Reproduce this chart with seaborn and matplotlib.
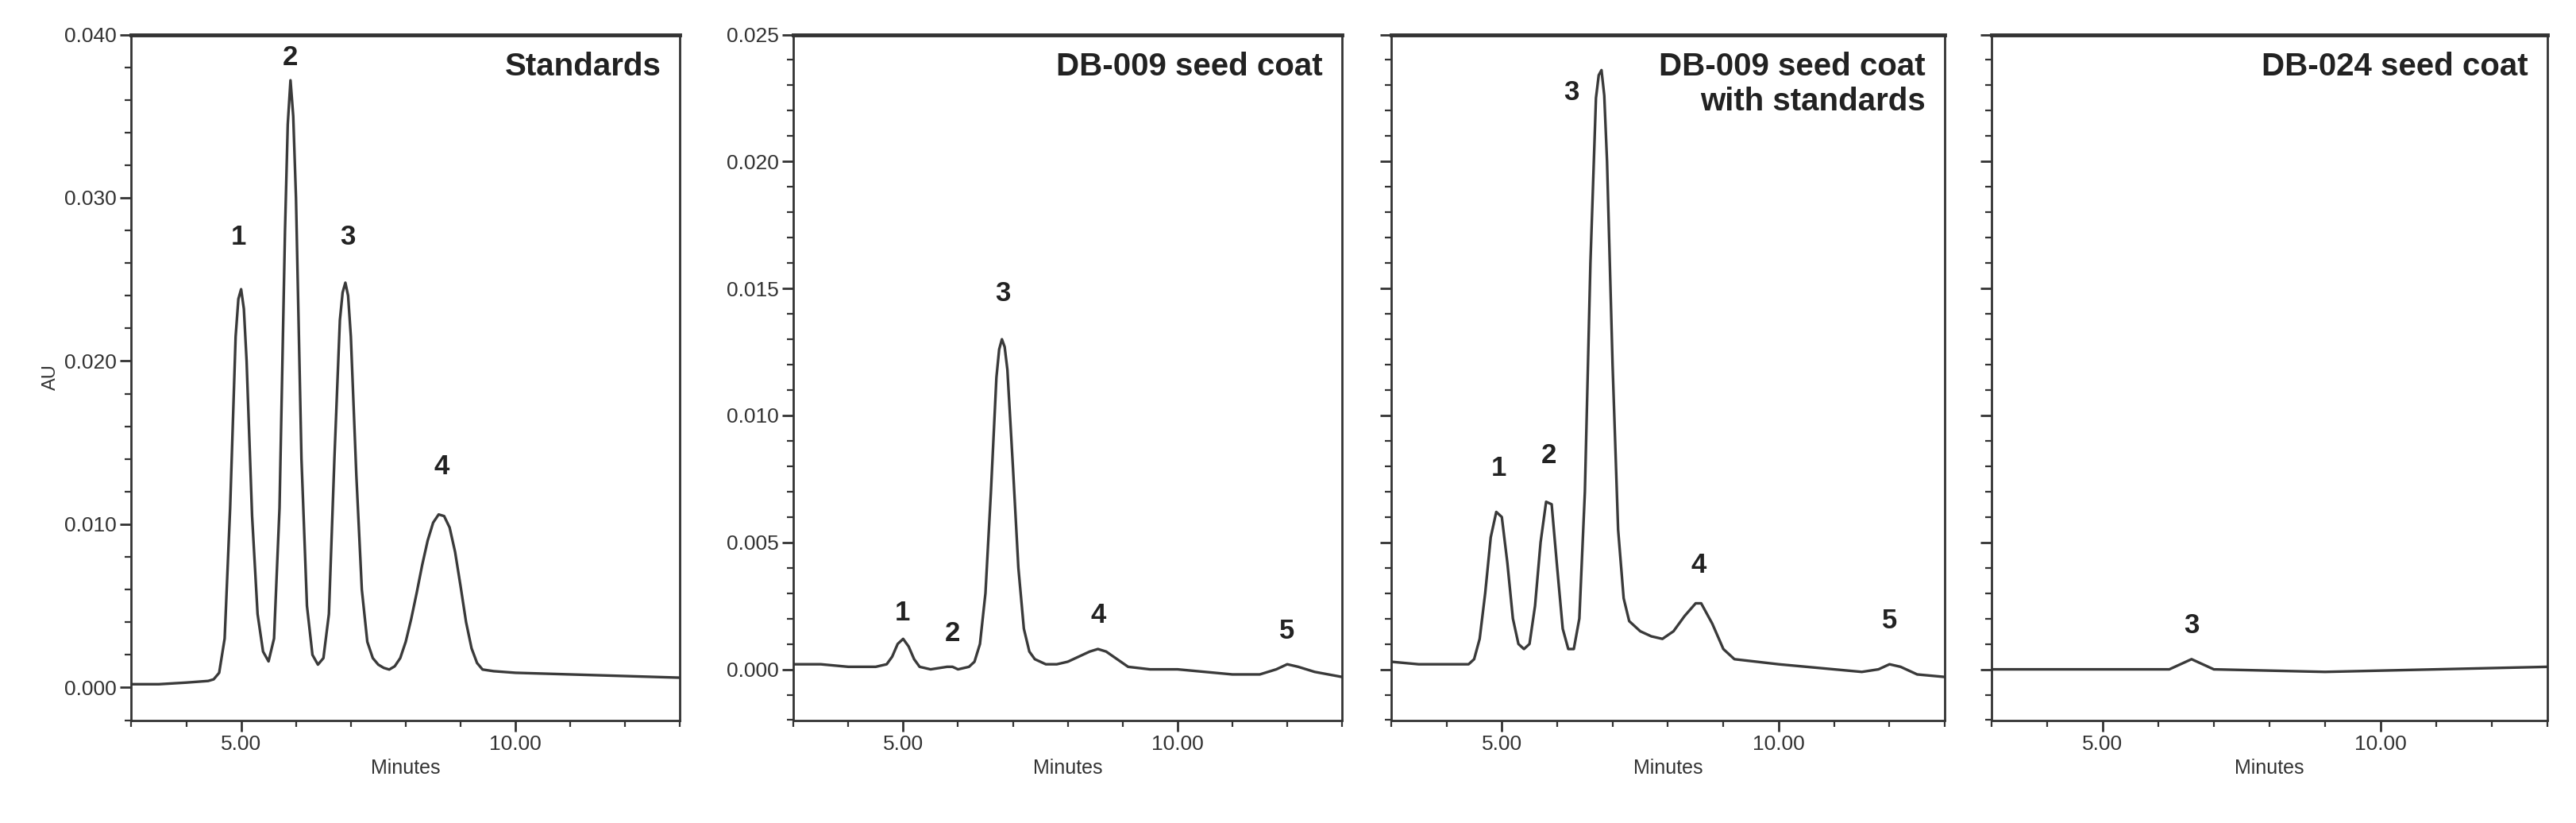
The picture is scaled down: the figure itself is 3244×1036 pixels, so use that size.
import matplotlib
matplotlib.use("Agg")
import matplotlib.pyplot as plt
import seaborn as sns
import pandas as pd
from matplotlib.ticker import MultipleLocator, FormatStrFormatter

sns.set_theme(style="white")
plt.rcParams['font.family'] = ['Liberation Sans Narrow', 'Liberation Sans', 'DejaVu Sans']

# ---- data (minutes, AU) ----
std_t = [3.0,3.5,4.0,4.4,4.5,4.6,4.7,4.8,4.9,4.95,5.0,5.05,5.1,5.2,5.3,5.4,5.5,5.6,5.7,5.8,5.85,5.9,5.95,6.0,6.1,6.2,6.3,6.4,6.5,6.6,6.7,6.8,6.85,6.9,6.95,7.0,7.1,7.2,7.3,7.4,7.5,7.6,7.7,7.8,7.9,8.0,8.1,8.2,8.3,8.4,8.5,8.6,8.7,8.8,8.9,9.0,9.1,9.2,9.3,9.4,9.6,10.0,11.0,12.0,13.0]
std_au = [0.0002,0.0002,0.0003,0.0004,0.0005,0.0009,0.0030,0.0110,0.0215,0.0238,0.0244,0.0232,0.0200,0.0105,0.0045,0.0022,0.0016,0.0030,0.0110,0.0280,0.0345,0.0372,0.0350,0.0300,0.0140,0.0050,0.0020,0.0014,0.0018,0.0045,0.0140,0.0225,0.0242,0.0248,0.0240,0.0215,0.0130,0.0060,0.0028,0.0018,0.0014,0.0012,0.0011,0.0013,0.0018,0.0028,0.0042,0.0058,0.0075,0.0090,0.0101,0.0106,0.0105,0.0098,0.0083,0.0062,0.0040,0.0024,0.0015,0.0011,0.0010,0.0009,0.0008,0.0007,0.0006]

db9_t = [3.0,3.5,4.0,4.5,4.7,4.8,4.9,5.0,5.1,5.2,5.3,5.5,5.8,5.9,6.0,6.2,6.3,6.4,6.5,6.6,6.7,6.75,6.8,6.85,6.9,7.0,7.1,7.2,7.3,7.4,7.6,7.8,8.0,8.2,8.4,8.55,8.7,8.9,9.1,9.5,10.0,10.5,11.0,11.5,11.8,12.0,12.2,12.5,13.0]
db9_au = [0.0002,0.0002,0.0001,0.0001,0.0002,0.0005,0.0010,0.0012,0.0009,0.0004,0.0001,0.0000,0.0001,0.0001,0.0000,0.0001,0.0003,0.0010,0.0030,0.0070,0.0115,0.0126,0.0130,0.0127,0.0118,0.0080,0.0040,0.0016,0.0007,0.0004,0.0002,0.0002,0.0003,0.0005,0.0007,0.0008,0.0007,0.0004,0.0001,0.0000,0.0000,-0.0001,-0.0002,-0.0002,0.0000,0.0002,0.0001,-0.0001,-0.0003]

mix_t = [3.0,3.5,4.0,4.4,4.5,4.6,4.7,4.8,4.9,5.0,5.1,5.2,5.3,5.4,5.5,5.6,5.7,5.8,5.9,6.0,6.1,6.2,6.3,6.4,6.5,6.6,6.7,6.75,6.8,6.85,6.9,7.0,7.1,7.2,7.3,7.5,7.7,7.9,8.1,8.3,8.5,8.6,8.8,9.0,9.2,9.6,10.0,10.5,11.0,11.5,11.8,12.0,12.2,12.5,13.0]
mix_au = [0.0003,0.0002,0.0002,0.0002,0.0004,0.0012,0.0030,0.0052,0.0062,0.0060,0.0042,0.0020,0.0010,0.0008,0.0010,0.0025,0.0050,0.0066,0.0065,0.0040,0.0016,0.0008,0.0008,0.0020,0.0070,0.0160,0.0225,0.0234,0.0236,0.0226,0.0200,0.0120,0.0055,0.0028,0.0019,0.0015,0.0013,0.0012,0.0015,0.0021,0.0026,0.0026,0.0018,0.0008,0.0004,0.0003,0.0002,0.0001,0.0000,-0.0001,0.0000,0.0002,0.0001,-0.0002,-0.0003]

db24_t = [3.0,5.0,6.2,6.4,6.6,6.8,7.0,9.0,11.0,13.0]
db24_au = [0.0000,0.0000,0.0000,0.0002,0.0004,0.0002,0.0000,-0.0001,0.0000,0.0001]

titles = ["Standards", "DB-009 seed coat", "DB-009 seed coat\nwith standards", "DB-024 seed coat"]
peak_labels = [
    [("1", 4.95, 0.0268), ("2", 5.9, 0.0378), ("3", 6.95, 0.0268), ("4", 8.65, 0.0127)],
    [("1", 4.98, 0.0017), ("2", 5.9, 0.0009), ("3", 6.82, 0.0143), ("4", 8.55, 0.0016), ("5", 12.0, 0.0010)],
    [("1", 4.95, 0.0074), ("2", 5.85, 0.0079), ("3", 6.25, 0.0222), ("4", 8.55, 0.0036), ("5", 12.0, 0.0014)],
    [("3", 6.6, 0.0012)],
]
ylims = [(-0.002, 0.040), (-0.002, 0.025), (-0.002, 0.025), (-0.002, 0.025)]
ymajor = [0.010, 0.005, 0.005, 0.005]
yminor = [0.002, 0.001, 0.001, 0.001]

series = [(std_t, std_au), (db9_t, db9_au), (mix_t, mix_au), (db24_t, db24_au)]
boxes = [(0.051, 0.264), (0.308, 0.521), (0.540, 0.755), (0.773, 0.989)]
bottom, top = 0.125, 0.958

fig = plt.figure(figsize=(32.44, 10.36), dpi=100)
lc = "#3a3a3a"
for i, ((t, au), (l, r)) in enumerate(zip(series, boxes)):
    ax = fig.add_axes([l, bottom, r - l, top - bottom])
    df = pd.DataFrame({"Minutes": t, "AU": au})
    sns.lineplot(data=df, x="Minutes", y="AU", ax=ax, color=lc, lw=2.4)
    ax.set_xlim(3, 13)
    ax.set_ylim(*ylims[i])
    ax.xaxis.set_major_locator(MultipleLocator(5))
    ax.xaxis.set_minor_locator(MultipleLocator(1))
    ax.xaxis.set_major_formatter(FormatStrFormatter("%.2f"))
    ax.yaxis.set_major_locator(MultipleLocator(ymajor[i]))
    ax.yaxis.set_minor_locator(MultipleLocator(yminor[i]))
    ax.yaxis.set_major_formatter(FormatStrFormatter("%.3f"))
    ax.tick_params(axis="both", which="major", direction="out", length=10, width=2, color="#333",
                   labelsize=19, left=True, bottom=True, colors="#333")
    ax.tick_params(axis="both", which="minor", direction="out", length=6, width=1.6, color="#333",
                   left=True, bottom=True)
    if i >= 2:
        ax.tick_params(axis="y", labelleft=False)
    for s in ax.spines.values():
        s.set_color("#333")
        s.set_linewidth(2)
    ax.spines["top"].set_linewidth(3.5)
    ax.set_xlabel("Minutes", fontsize=18, color="#333")
    ax.set_ylabel("AU" if i == 0 else "", fontsize=17, color="#333")
    ax.text(0.965, 0.975, titles[i], transform=ax.transAxes, ha="right", va="top",
            fontsize=29, fontweight="bold", color="#222", linespacing=1.2)
    for lab, x, y in peak_labels[i]:
        ax.text(x, y, lab, ha="center", va="bottom", fontsize=25, fontweight="bold", color="#222")

fig.savefig("out.png", dpi=100)
